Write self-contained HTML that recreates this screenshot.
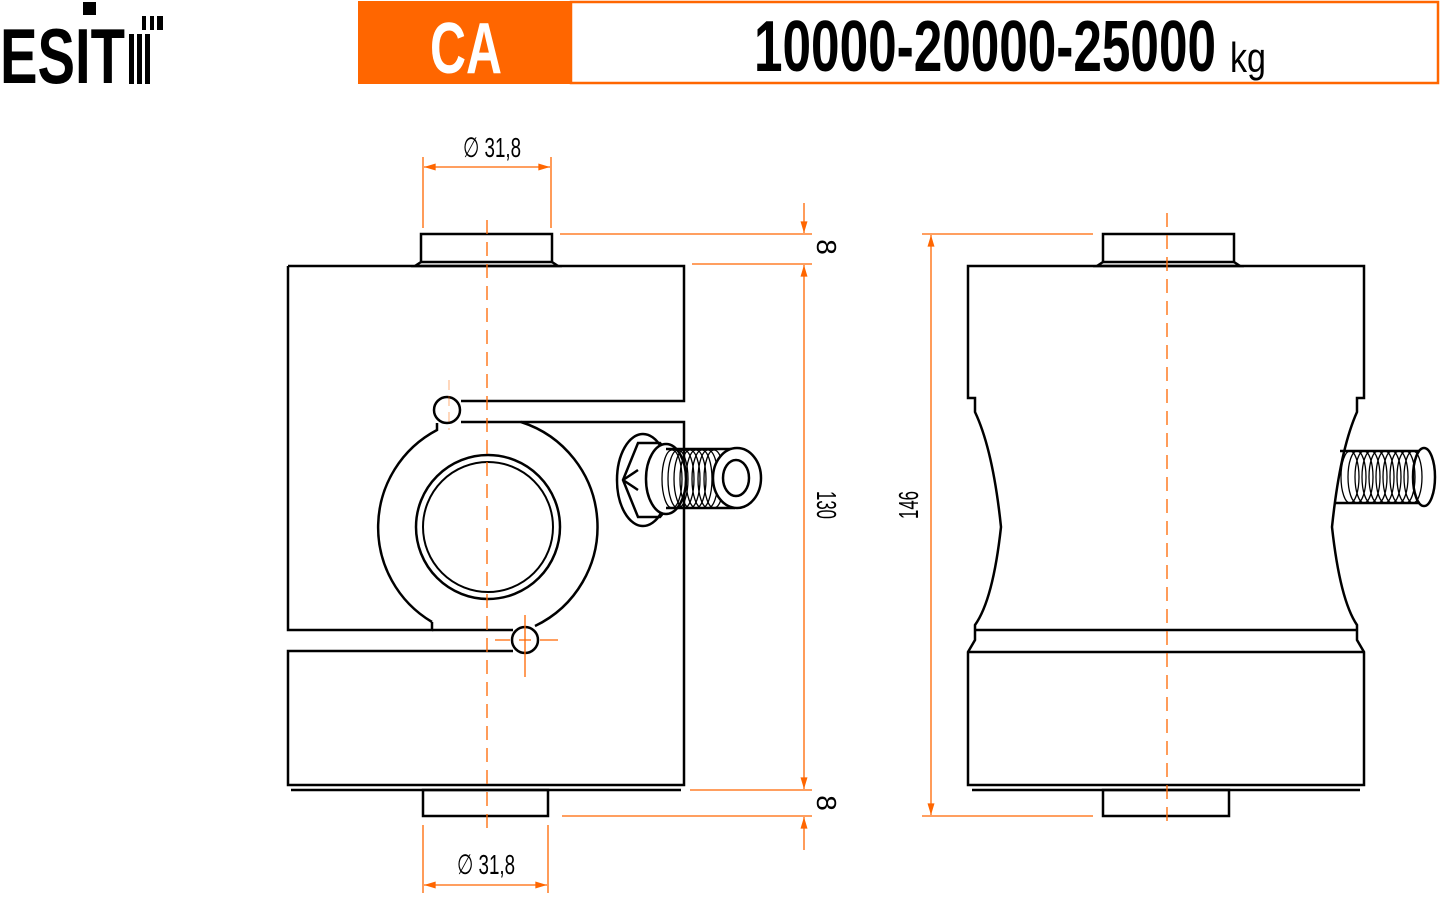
<!DOCTYPE html>
<html><head><meta charset="utf-8"><style>html,body{margin:0;padding:0;background:#fff;width:1440px;height:897px;overflow:hidden}</style></head>
<body>
<svg width="1440" height="897" viewBox="0 0 1440 897" xmlns="http://www.w3.org/2000/svg" font-family="Liberation Sans, sans-serif">
<defs>
<marker id="a" viewBox="0 0 10 6" refX="10" refY="3" markerWidth="16" markerHeight="7" markerUnits="userSpaceOnUse" orient="auto-start-reverse"><path d="M0,0L10,3L0,6z" fill="#f60"/></marker>
</defs>
<!-- header -->
<text x="0" y="83" font-size="78" font-weight="bold" textLength="125" lengthAdjust="spacingAndGlyphs">ESIT</text>
<rect x="83" y="2" width="13" height="13" fill="#fff"/>
<rect x="83" y="2" width="13" height="13" fill="#000"/>
<rect x="129" y="34" width="5" height="50" fill="#000"/><rect x="137" y="34" width="5" height="50" fill="#000"/><rect x="145" y="34" width="5" height="50" fill="#000"/>
<rect x="142" y="16" width="4" height="14" fill="#000"/><rect x="150" y="16" width="4" height="14" fill="#000"/><rect x="157" y="16" width="6" height="14" fill="#000"/>
<rect x="358" y="1" width="212" height="83" fill="#f60"/>
<text x="430" y="73" font-size="72" font-weight="bold" fill="#fff" textLength="72" lengthAdjust="spacingAndGlyphs">CA</text>
<rect x="571" y="2" width="867" height="81" fill="none" stroke="#f60" stroke-width="2.5"/>
<text x="754" y="71" font-size="72" font-weight="bold" textLength="462" lengthAdjust="spacingAndGlyphs">10000-20000-25000</text>
<text x="1230" y="72" font-size="42" textLength="36" lengthAdjust="spacingAndGlyphs">kg</text>

<g fill="none" stroke="#000" stroke-width="2.5">
<!-- LEFT VIEW -->
<path d="M421,234H552V262L558,266H415L421,262Z"/>
<path d="M421,262H552"/>
<path d="M288,266H684V401H461"/>
<path d="M288,266V630H432V622"/>
<circle cx="447" cy="410" r="13"/>
<path d="M461,422H684V785H288V651H513"/>
<path d="M521,422A110,110 0 0 1 535,626"/>
<path d="M432,622A110,110 0 0 1 437,430V423"/>
<path d="M432,630H513"/>
<circle cx="525" cy="640" r="13" fill="#fff"/>
<path d="M291,790H681"/>
<path d="M423,790H548V816H423Z"/>
<circle cx="488" cy="527" r="72"/>
<circle cx="488" cy="527" r="65" stroke-width="2"/>
<!-- connector -->
<ellipse cx="643" cy="480" rx="26" ry="46" fill="#fff"/>
<path d="M623,480L638,443H660L670,455V505L660,517H638Z"/>
<path d="M623,480L638,470M623,480L638,490"/>
<ellipse cx="666" cy="479" rx="20" ry="35" fill="#fff"/>
<path d="M666,449H735M666,508H735"/>
<g stroke-width="1.3">
<ellipse cx="672" cy="479" rx="10" ry="29"/><ellipse cx="678" cy="479" rx="10" ry="29"/><ellipse cx="684" cy="479" rx="10" ry="29"/><ellipse cx="690" cy="479" rx="10" ry="29"/><ellipse cx="696" cy="479" rx="10" ry="29"/><ellipse cx="702" cy="479" rx="10" ry="29"/><ellipse cx="708" cy="479" rx="10" ry="29"/><ellipse cx="714" cy="479" rx="10" ry="29"/>
</g>
<ellipse cx="737" cy="478" rx="24" ry="30" fill="#fff"/>
<ellipse cx="736" cy="478" rx="13" ry="18"/>

<!-- RIGHT VIEW -->
<path d="M1103,234H1234V262L1240,266H1097L1103,262Z"/>
<path d="M1103,262H1234"/>
<path d="M968,266H1364V398H1357V412Q1340,450 1332,527Q1340,600 1357,625V640L1364,652V785H968V652L975,640V625Q993,600 1001,527Q993,450 975,412V398H968Z"/>
<path d="M975,630H1357M968,652H1364"/>
<path d="M972,790H1360"/>
<path d="M1103,790H1229V816H1103Z"/>
<path d="M1340,451H1420M1335,503H1420"/>
<g stroke-width="1.3">
<ellipse cx="1350" cy="477" rx="9" ry="26"/><ellipse cx="1357" cy="477" rx="9" ry="26"/><ellipse cx="1364" cy="477" rx="9" ry="26"/><ellipse cx="1371" cy="477" rx="9" ry="26"/><ellipse cx="1378" cy="477" rx="9" ry="26"/><ellipse cx="1385" cy="477" rx="9" ry="26"/><ellipse cx="1392" cy="477" rx="9" ry="26"/><ellipse cx="1399" cy="477" rx="9" ry="26"/><ellipse cx="1406" cy="477" rx="9" ry="26"/><ellipse cx="1413" cy="477" rx="9" ry="26"/>
</g>
<ellipse cx="1424" cy="477" rx="11" ry="29"/>
</g>

<!-- orange dims -->
<g stroke="#f60" stroke-width="1.3" fill="none">
<path d="M487,220V830" stroke-dasharray="14,8"/>
<path d="M1167,213V825" stroke-dasharray="14,8"/>
<path d="M449,380V430" stroke-dasharray="10,6" stroke-opacity=".4"/>
<path d="M525,615V677M495,640H510M540,640H558M519,640H531M525,634V646"/>
<path d="M423,157V228M551,157V228"/>
<path d="M424,167H550" marker-start="url(#a)" marker-end="url(#a)"/>
<path d="M423,825V893M548,825V893"/>
<path d="M424,885H547" marker-start="url(#a)" marker-end="url(#a)"/>
<path d="M560,234H812M692,264H812M690,790H812M562,816H812"/>
<path d="M804,203V233" marker-end="url(#a)"/>
<path d="M804,265V789" marker-start="url(#a)" marker-end="url(#a)"/>
<path d="M804,850V817" marker-end="url(#a)"/>
<path d="M922,234H1093M922,816H1093"/>
<path d="M931,235V815" marker-start="url(#a)" marker-end="url(#a)"/>
</g>
<g font-size="28" fill="#000">
<text x="463" y="157" textLength="58" lengthAdjust="spacingAndGlyphs">∅ 31,8</text>
<text x="457" y="874" textLength="58" lengthAdjust="spacingAndGlyphs">∅ 31,8</text>
<text transform="translate(817,247) rotate(90)" text-anchor="middle">8</text>
<text transform="translate(817,803) rotate(90)" text-anchor="middle">8</text>
<text transform="translate(817,505) rotate(90)" text-anchor="middle" textLength="28" lengthAdjust="spacingAndGlyphs">130</text>
<text transform="translate(918,505) rotate(-90)" text-anchor="middle" textLength="28" lengthAdjust="spacingAndGlyphs">146</text>
</g>
</svg>
</body></html>
